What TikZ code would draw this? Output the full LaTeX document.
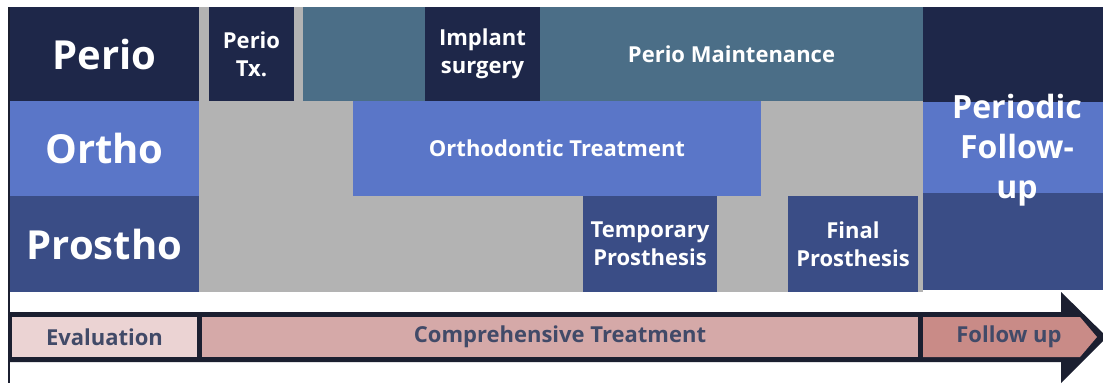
\documentclass[tikz,border=0pt]{standalone}
\usepackage{fontspec}
\setmainfont{Open Sans}
\definecolor{navy}{HTML}{1E2749}
\definecolor{oblue}{HTML}{5A76C8}
\definecolor{slate}{HTML}{3A4D86}
\definecolor{tealb}{HTML}{4B6E87}
\definecolor{greyb}{HTML}{B3B3B3}
\definecolor{pkA}{HTML}{EBD3D3}
\definecolor{pkB}{HTML}{D5A9A8}
\definecolor{pkC}{HTML}{C98B87}
\definecolor{bartext}{HTML}{414A68}
\definecolor{arrowdark}{HTML}{1B1F30}
\newcommand{\blk}[8]{\node[blk, #7, fill=#6, minimum width={(#4-#2)*1pt}, minimum height={(#5-#3)*1pt}] (#1) at (#2,#3) {#8};}
\begin{document}
\begin{tikzpicture}[x=1pt,y=-1pt,
  blk/.style={anchor=north west, inner sep=0pt, outer sep=0pt, text=white, align=center, draw=none},
  big/.style={font=\fontsize{40}{46}\selectfont\bfseries},
  mid/.style={font=\fontsize{32}{40}\selectfont\bfseries},
  small/.style={font=\fontsize{22}{28}\selectfont\bfseries},
  bar/.style={font=\fontsize{22}{27}\selectfont\bfseries, text=bartext},
  plain/.style={}]
\useasboundingbox (0,0) rectangle (1103,383);
\fill[white] (0,0) rectangle (1103,383);
% grey background of the treatment area
\fill[greyb] (199,7) rectangle (923,292);
% row labels
\blk{perio}{10}{7}{199}{101}{navy}{big}{Perio}
\blk{ortho}{10}{101}{199}{196}{oblue}{big}{Ortho}
\blk{prostho}{10}{196}{199}{292}{slate}{big}{Prostho}
% perio row
\blk{periotx}{209}{7}{294}{101}{navy}{small}{Perio\\Tx.}
\blk{tealA}{303}{7}{425}{101}{tealb}{plain}{}
\blk{implant}{425}{7}{540}{101}{navy}{small}{Implant\\surgery}
\blk{maint}{540}{7}{923}{101}{tealb}{small}{Perio Maintenance}
% ortho row
\blk{orthotx}{353}{101}{761}{196}{oblue}{small}{Orthodontic Treatment}
% prostho row
\blk{temp}{583}{196}{717}{292}{slate}{small}{Temporary\\Prosthesis}
\blk{final}{788}{196}{918}{292}{slate}{small}{Final\\Prosthesis}
% follow-up column
\blk{fuA}{923}{7}{1103}{102}{navy}{plain}{}
\blk{fuB}{923}{102}{1103}{193}{oblue}{plain}{}
\blk{fuC}{923}{193}{1103}{290}{slate}{plain}{}
\node[mid, text=white, align=center, inner sep=0pt] (pfu) at (1017,150) {Periodic\\Follow-\\up};
% left edge line
\fill[arrowdark] (8,7) rectangle (10,383);
% timeline arrow
\fill[arrowdark] (8,312) -- (1061,312) -- (1061,292) -- (1107,337) -- (1061,383) -- (1061,362) -- (8,362) -- cycle;
\blk{eval}{12}{317}{197}{357}{pkA}{bar}{Evaluation}
\blk{comp}{202}{317}{918}{357}{pkB}{bar}{Comprehensive Treatment}
\fill[pkC] (923,317) -- (1080,317) -- (1097,337) -- (1080,357) -- (923,357) -- cycle;
\node[bar, inner sep=0pt] (follow) at (1009,337) {Follow up};
\end{tikzpicture}
\end{document}
